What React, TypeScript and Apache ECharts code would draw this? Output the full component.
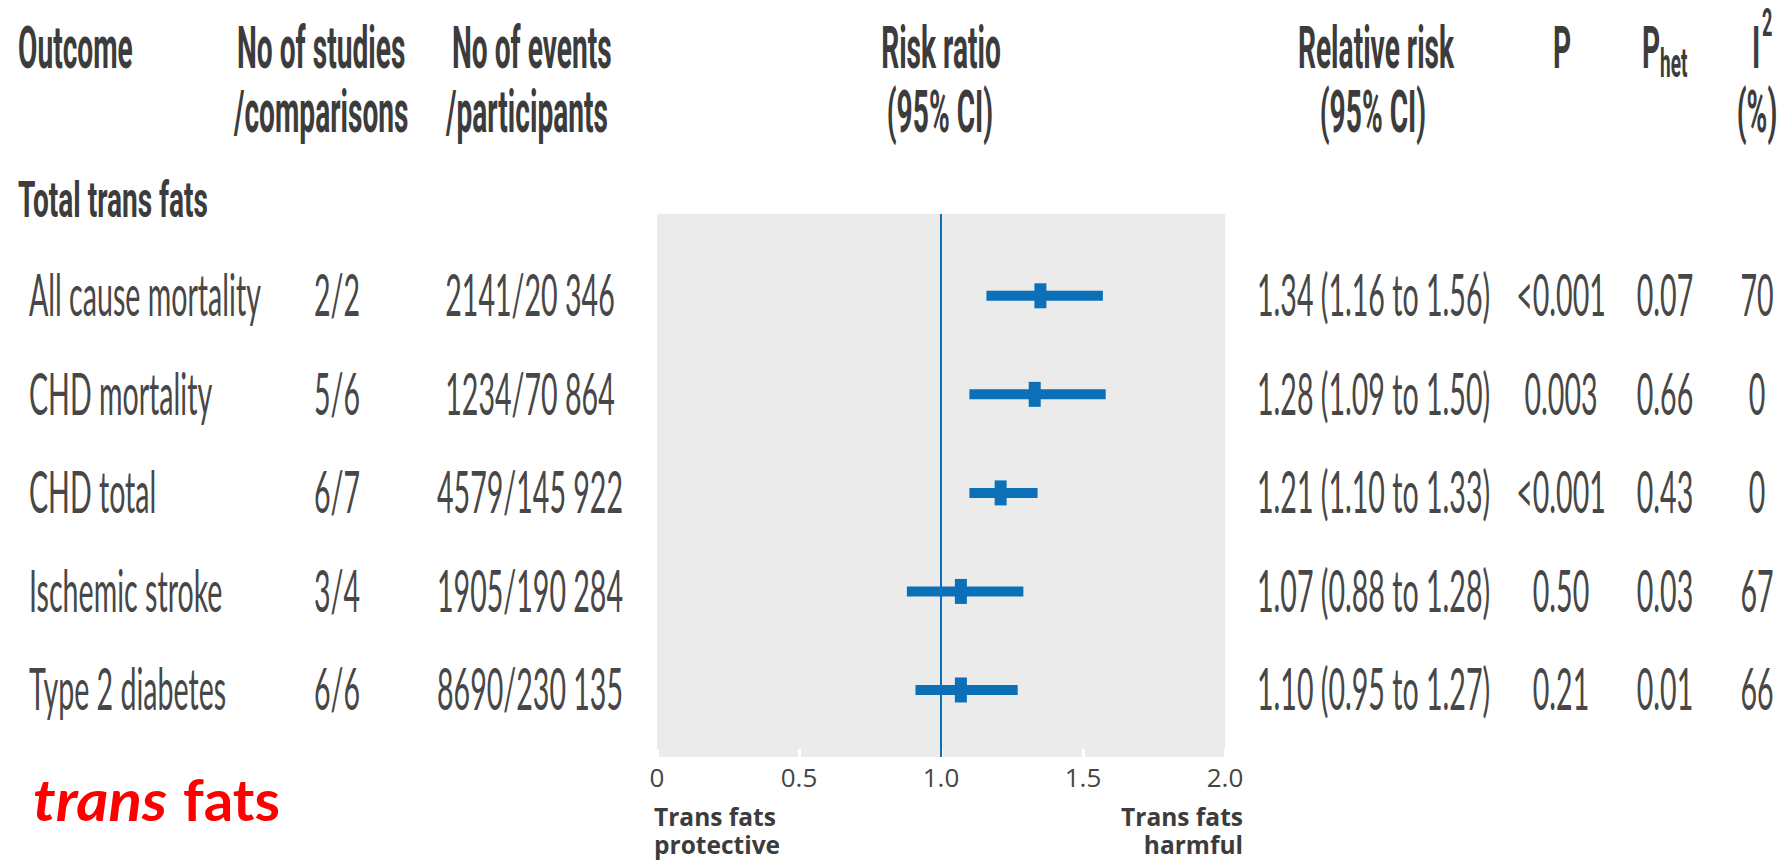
import React, { useEffect, useRef } from 'react';
import * as echarts from 'echarts';

// ---------------- data ----------------
const OUTCOMES = ['All cause mortality', 'CHD mortality', 'CHD total', 'Ischemic stroke', 'Type 2 diabetes'];
const STUDIES = ['2/2', '5/6', '6/7', '3/4', '6/6'];
const EVENTS = ['2141/20 346', '1234/70 864', '4579/145 922', '1905/190 284', '8690/230 135'];
const RR_TEXT = ['1.34 (1.16 to 1.56)', '1.28 (1.09 to 1.50)', '1.21 (1.10 to 1.33)', '1.07 (0.88 to 1.28)', '1.10 (0.95 to 1.27)'];
const P_TEXT = ['<0.001', '0.003', '<0.001', '0.50', '0.21'];
const PHET_TEXT = ['0.07', '0.66', '0.43', '0.03', '0.01'];
const I2_TEXT = ['70', '0', '0', '67', '66'];
// marks as drawn in the plot
const RR_POINT = [1.35, 1.33, 1.21, 1.07, 1.07];
const RR_LOW = [1.16, 1.10, 1.10, 0.88, 0.91];
const RR_HIGH = [1.57, 1.58, 1.34, 1.29, 1.27];
const X_TICKS = ['0', '0.5', '1.0', '1.5', '2.0'];
const REF_VALUE = 1;

// ---------------- layout / style ----------------
const BLUE = '#0b70b7';
const GREY_BG = '#ebebeb';
const HEAD_COLOR = '#3c3c3c';
const DATA_COLOR = '#474747';
const HEADER_FONT = 'bold 59px Roboto';
const SUB_FONT = 'bold 40px Roboto';
const SUP_FONT = 'bold 38px Roboto';
const SECTION_FONT = 'bold 50px Roboto';
const DATA_FONT = '58px Lato';
const NOTE_FONT = 'bold 25px "Open Sans"';
const RED_ITALIC_FONT = 'italic bold 58px Lato';
const RED_FONT = 'bold 58px Lato';

const GRID = { left: 657, top: 214, width: 568, height: 543 };
const Y_MIN = -0.83;
const Y_MAX = 4.68;
const HEAD_Y1 = 48;
const HEAD_Y2 = 112;
const ROW_DY = -2;
const COL = { name: 29, studies: 337, events: 530, rr: 1257, p: 1561, phet: 1665, i2: 1757 };
const MARK_W = 12;
const MARK_H = 25;
const CI_WIDTH = 10;

const HEADER_FIT: [string, number][] = [['Outcome', 112], ['No of studies', 168], ['/comparisons', 175], ['Risk ratio', 120], ['Relative risk', 159]];
const DATA_FIT: [string, number][] = [['All cause mortality', 232], ['1.34 (1.16 to 1.56)', 236], ['8690/230 135', 185], ['2141/20 346', 168]];

function makeMeasurer() {
  const ctx = document.createElement('canvas').getContext('2d');
  return (font: string, text: string) => {
    if (!ctx) return 0;
    ctx.font = font;
    return ctx.measureText(text).width;
  };
}

function fitScale(measure: (f: string, t: string) => number, font: string, fits: [string, number][], fallback: number) {
  let m = 0;
  let t = 0;
  fits.forEach(([s, w]) => {
    m += measure(font, s);
    t += w;
  });
  return m > 0 ? t / m : fallback;
}

export default function App() {
  const ref = useRef<HTMLDivElement>(null);

  useEffect(() => {
    document.body.style.margin = '0';
    if (!ref.current) return;
    const chart = echarts.init(ref.current, undefined, { renderer: 'svg' });
    const measure = makeMeasurer();

    const hScale = fitScale(measure, HEADER_FONT, HEADER_FIT, 0.47);
    const dScale = fitScale(measure, DATA_FONT, DATA_FIT, 0.5);
    const sScale = fitScale(measure, SECTION_FONT, [['Total trans fats', 190]], 0.47);
    const nScale = fitScale(measure, NOTE_FONT, [['Trans fats', 122]], 1);
    const tScale = fitScale(measure, RED_ITALIC_FONT, [['trans', 134]], 1);
    const fScale = fitScale(measure, RED_FONT, [['fats', 97]], 1);

    const txt = (text: string, x: number, y: number, align: string, font: string, fill: string, scale: number) => ({
      type: 'text',
      x,
      y,
      scaleX: scale,
      silent: true,
      style: { text, font, fill, textAlign: align, textVerticalAlign: 'middle' },
    });

    const graphics: any[] = [
      txt('Outcome', 18, HEAD_Y1, 'left', HEADER_FONT, HEAD_COLOR, hScale),
      txt('No of studies', 237, HEAD_Y1, 'left', HEADER_FONT, HEAD_COLOR, hScale),
      txt('/comparisons', 234, HEAD_Y2, 'left', HEADER_FONT, HEAD_COLOR, hScale),
      txt('No of events', 452, HEAD_Y1, 'left', HEADER_FONT, HEAD_COLOR, hScale),
      txt('/participants', 446, HEAD_Y2, 'left', HEADER_FONT, HEAD_COLOR, hScale),
      txt('Risk ratio', 941, HEAD_Y1, 'center', HEADER_FONT, HEAD_COLOR, hScale),
      txt('(95% CI)', 940, HEAD_Y2, 'center', HEADER_FONT, HEAD_COLOR, hScale),
      txt('Relative risk', 1376, HEAD_Y1, 'center', HEADER_FONT, HEAD_COLOR, hScale),
      txt('(95% CI)', 1373, HEAD_Y2, 'center', HEADER_FONT, HEAD_COLOR, hScale),
      txt('P', 1562, HEAD_Y1, 'center', HEADER_FONT, HEAD_COLOR, hScale),
      txt('P', 1642, HEAD_Y1, 'left', HEADER_FONT, HEAD_COLOR, hScale),
      txt('het', 1660, HEAD_Y1 + 16, 'left', SUB_FONT, HEAD_COLOR, hScale),
      txt('I', 1752, HEAD_Y1, 'left', HEADER_FONT, HEAD_COLOR, hScale),
      txt('2', 1762, 23, 'left', SUP_FONT, HEAD_COLOR, hScale),
      txt('(%)', 1757, HEAD_Y2, 'center', HEADER_FONT, HEAD_COLOR, hScale),
      txt('Total trans fats', 18, 200, 'left', SECTION_FONT, HEAD_COLOR, sScale),
      txt('Trans fats', 654, 816, 'left', NOTE_FONT, HEAD_COLOR, nScale),
      txt('protective', 654, 844, 'left', NOTE_FONT, HEAD_COLOR, nScale),
      txt('Trans fats', 1243, 816, 'right', NOTE_FONT, HEAD_COLOR, nScale),
      txt('harmful', 1243, 844, 'right', NOTE_FONT, HEAD_COLOR, nScale),
      txt('trans', 33, 799, 'left', RED_ITALIC_FONT, '#ff0000', tScale),
      txt('fats', 183, 799, 'left', RED_FONT, '#ff0000', fScale),
    ];

    const ciData = OUTCOMES.map((_, i) => [RR_LOW[i], RR_HIGH[i], RR_POINT[i], i]);
    const rowData = OUTCOMES.map((_, i) => [REF_VALUE, i]);

    const option: any = {
      animation: false,
      grid: { ...GRID, show: true, backgroundColor: GREY_BG, borderWidth: 0, containLabel: false },
      xAxis: {
        type: 'value',
        position: 'bottom',
        min: 0,
        max: 2,
        interval: 0.5,
        axisLine: { show: false, onZero: false },
        splitLine: { show: false },
        axisTick: { show: true, inside: true, length: 8, lineStyle: { color: '#ffffff', width: 3 } },
        axisLabel: {
          show: true,
          margin: 7,
          showMinLabel: true,
          showMaxLabel: true,
          fontFamily: '"Open Sans"',
          fontSize: 26,
          color: '#454545',
          formatter: (v: number) => X_TICKS[Math.round(v / 0.5)] ?? '',
        },
      },
      yAxis: { type: 'value', min: Y_MIN, max: Y_MAX, inverse: true, show: false, splitLine: { show: false } },
      graphic: { elements: graphics },
      series: [
        {
          type: 'custom',
          name: 'ci',
          clip: false,
          z: 5,
          data: ciData,
          encode: { x: [0, 1, 2], y: 3 },
          renderItem: (_p: any, api: any) => {
            const row = api.value(3);
            const lo = api.coord([api.value(0), row]);
            const hi = api.coord([api.value(1), row]);
            const pt = api.coord([api.value(2), row]);
            return {
              type: 'group',
              children: [
                { type: 'line', shape: { x1: lo[0], y1: lo[1], x2: hi[0], y2: hi[1] }, style: { stroke: BLUE, lineWidth: CI_WIDTH, lineCap: 'butt' } },
                { type: 'rect', shape: { x: pt[0] - MARK_W / 2, y: pt[1] - MARK_H / 2, width: MARK_W, height: MARK_H }, style: { fill: BLUE } },
              ],
            };
          },
          markLine: {
            silent: true,
            symbol: 'none',
            label: { show: false },
            lineStyle: { color: BLUE, width: 2, type: 'solid' },
            data: [{ xAxis: REF_VALUE }],
          },
        },
        {
          type: 'custom',
          name: 'table',
          clip: false,
          silent: true,
          data: rowData,
          encode: { x: 0, y: 1 },
          renderItem: (_p: any, api: any) => {
            const i = api.value(1);
            const y = api.coord([REF_VALUE, i])[1] + ROW_DY;
            const t = (text: string, x: number, align: string) => ({
              type: 'text',
              x,
              y,
              scaleX: dScale,
              style: { text, font: DATA_FONT, fill: DATA_COLOR, textAlign: align, textVerticalAlign: 'middle' },
            });
            return {
              type: 'group',
              children: [
                t(OUTCOMES[i], COL.name, 'left'),
                t(STUDIES[i], COL.studies, 'center'),
                t(EVENTS[i], COL.events, 'center'),
                t(RR_TEXT[i], COL.rr, 'left'),
                t(P_TEXT[i], COL.p, 'center'),
                t(PHET_TEXT[i], COL.phet, 'center'),
                t(I2_TEXT[i], COL.i2, 'center'),
              ],
            };
          },
        },
      ],
    };

    chart.setOption(option);
    return () => chart.dispose();
  }, []);

  return <div ref={ref} style={{ width: 1791, height: 860 }} />;
}
